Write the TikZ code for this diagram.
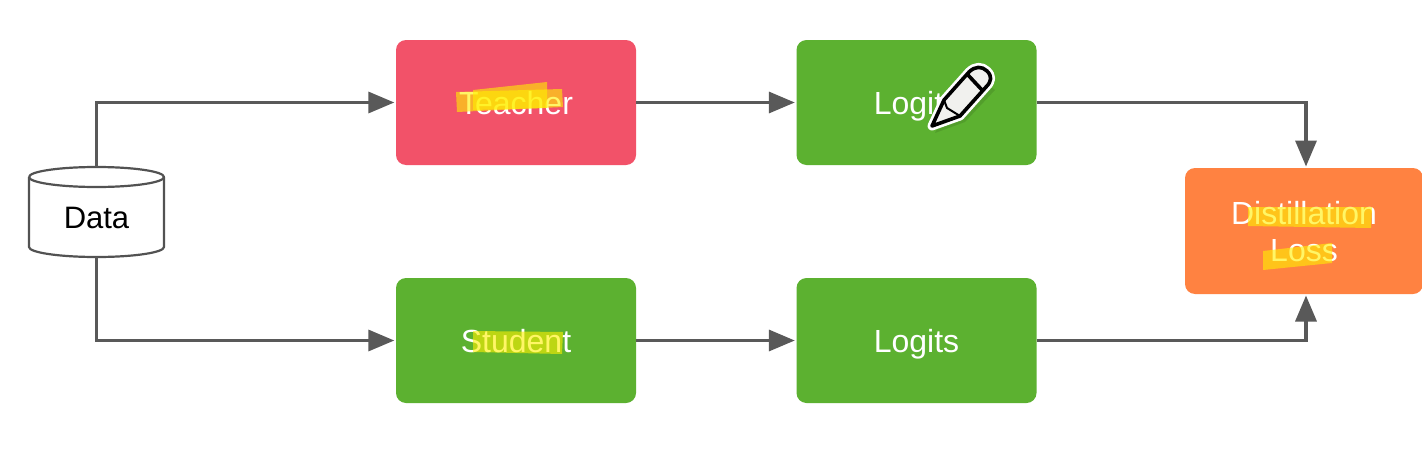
\documentclass[tikz,border=0pt]{standalone}
\usepackage{fontspec}
\setmainfont{Liberation Sans}
\usetikzlibrary{arrows.meta}
\definecolor{boxred}{HTML}{F25269}
\definecolor{boxgreen}{HTML}{5CB130}
\definecolor{boxorange}{HTML}{FF8241}
\definecolor{wire}{HTML}{595959}
\definecolor{marker}{HTML}{FFF000}
\definecolor{pencilbody}{HTML}{F1F1EE}
\tikzset{
  box/.style={rounded corners=10pt, minimum width=240pt, minimum height=125pt, inner sep=0pt, text=white, font=\fontsize{32}{37}\selectfont},
  oneline/.style={text height=24pt, text depth=0pt},
  link/.style={draw=wire, line width=3.4pt, -{Triangle[length=26pt,width=21pt]}, shorten >=1.5pt},
  cyl/.style={draw=black!68, line width=2.2pt, line join=round},
  hl/.style={fill=marker, fill opacity=.6, draw=none},
}
\begin{document}
\begin{tikzpicture}[x=1pt,y=-1pt]
\useasboundingbox (0,0) rectangle (1422,450);
\fill[white] (0,0) rectangle (1422,450);

\node[box, oneline, fill=boxred] (teacher) at (516,102.5) {Teacher};
\node[box, oneline, fill=boxgreen] (logitsa) at (916.5,102.5) {Logits};
\node[box, oneline, fill=boxgreen] (student) at (516,340.5) {Student};
\node[box, oneline, fill=boxgreen] (logitsb) at (916.5,340.5) {Logits};
\node[box, align=center, fill=boxorange, minimum width=238pt, minimum height=126pt] (loss) at (1304,231) {\rule{0pt}{25pt}Distillation\\Loss};

% data cylinder
\node[minimum width=135pt, minimum height=78pt, inner sep=0pt, text=black, font=\fontsize{31}{36}\selectfont] (data) at (96.5,218) {Data};
\coordinate (datatop) at (96.5,167);
\coordinate (databottom) at (96.5,257);
\draw[cyl] (29,177) arc[start angle=180, end angle=-180, x radius=67.5, y radius=10];
\draw[cyl] (29,177) -- (29,247) arc[start angle=180, end angle=360, x radius=67.5, y radius=-10] -- (164,177);

% connectors
\draw[link] (datatop) |- (teacher.west);
\draw[link] (databottom) |- (student.west);
\draw[link] (teacher.east) -- (logitsa.west);
\draw[link] (student.east) -- (logitsb.west);
\coordinate (lossin) at (1306,168);
\coordinate (lossout) at (1306,294);
\draw[link] (logitsa.east) -| (lossin);
\draw[link] (logitsb.east) -| (lossout);

% marker strokes
\fill[hl] (456,92) -- (562,89) -- (563,107) -- (457,112) -- cycle;
\fill[hl] (473,90) -- (547,82) -- (547,108) -- (473,110) -- cycle;
\fill[hl] (473,331) -- (563,332) -- (562,354) -- (473,352) -- cycle;
\fill[hl] (1248,207) -- (1372,207) -- (1371,228) -- (1248,226) -- cycle;
\fill[hl] (1263,251) -- (1332,243) -- (1332,263) -- (1263,270) -- cycle;

% pencil
\fill[black, opacity=.10] (935,133) -- (948,105) -- (976,75) -- (995,90) -- (965,122) -- cycle;
\def\pencilpath{(932,126) -- (944,100) -- (969,72) .. controls (975,66) and (982,66) .. (987,71) .. controls (992,76) and (992,81) .. (986,87) -- (960,116) -- cycle}
\draw[white, line width=9pt, line join=round, fill=white] \pencilpath;
\draw[black, line width=3.6pt, line join=round, fill=pencilbody] \pencilpath;
\draw[black, line width=3.6pt] (968,75) -- (982,90);
\draw[black, line width=2pt] (944,100) -- (947,108) -- (960,116);
\end{tikzpicture}
\end{document}
